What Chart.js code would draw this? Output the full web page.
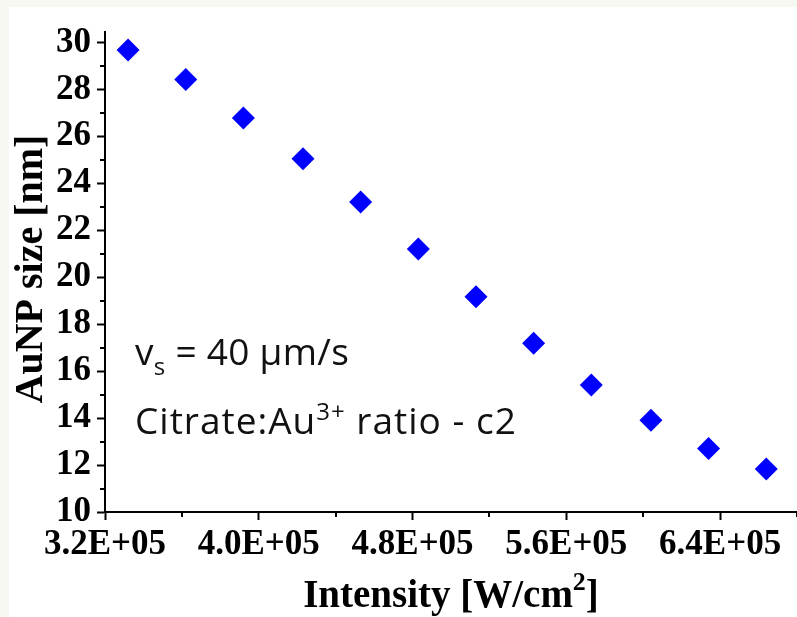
<!DOCTYPE html>
<html>
<head>
<meta charset="utf-8">
<script src="https://cdn.jsdelivr.net/npm/chart.js@4.4.1/dist/chart.umd.min.js"></script>
<style>
  html, body { margin: 0; padding: 0; background: #f8f8f2; }
  #wrap { position: absolute; left: 9px; top: 7px; width: 788px; height: 610px; background: #fff; }
  canvas { display: block; }
</style>
</head>
<body>
<div id="wrap"><canvas id="sizeChart" width="788" height="610"></canvas></div>
<script>
// Laser intensity (W/cm2) and resulting AuNP size (nm)
const intensity = [332000, 362000, 392000, 423000, 453000, 483000, 513000, 543000, 573000, 604000, 634000, 664000];
const aunpSize = [29.68, 28.43, 26.79, 25.05, 23.21, 21.21, 19.17, 17.19, 15.41, 13.91, 12.71, 11.83];

// axis ticks
const xMajor = [320000, 400000, 480000, 560000, 640000];
const xMinor = [360000, 440000, 520000, 600000, 680000];
const yMajor = [10, 12, 14, 16, 18, 20, 22, 24, 26, 28, 30];
const yMinor = [11, 13, 15, 17, 19, 21, 23, 25, 27, 29];

const serif = "'Liberation Serif', 'Times New Roman', serif";
const sans = "'Open Sans', 'DejaVu Sans', sans-serif";

// 3.2E+05 style labels
function sciLabel(v) {
    return v.toExponential(1).toUpperCase().replace(/E([+-])(\d)$/, 'E$10$2');
}

// draws a run of text pieces, each with its own font and vertical shift
function drawRich(ctx, x, y, parts) {
    parts.forEach(p => {
        ctx.font = p.font;
        ctx.fillText(p.text, x, y + (p.dy || 0));
        x += ctx.measureText(p.text).width;
    });
}

function richWidth(ctx, parts) {
    let w = 0;
    parts.forEach(p => { ctx.font = p.font; w += ctx.measureText(p.text).width; });
    return w;
}

const extras = {
    id: 'extras',
    afterDraw(chart) {
        const { ctx, chartArea: a, scales: { x, y } } = chart;
        ctx.save();

        // minor ticks
        ctx.strokeStyle = '#000';
        ctx.lineWidth = 2;
        ctx.beginPath();
        xMinor.forEach(v => {
            const px = Math.round(x.getPixelForValue(v));
            ctx.moveTo(px, a.bottom);
            ctx.lineTo(px, a.bottom + 5);
        });
        yMinor.forEach(v => {
            const py = Math.round(y.getPixelForValue(v));
            ctx.moveTo(a.left, py);
            ctx.lineTo(a.left - 5, py);
        });
        ctx.stroke();

        ctx.fillStyle = '#000';
        ctx.textBaseline = 'alphabetic';
        ctx.textAlign = 'left';

        // x axis title with superscript
        const xt = [
            { text: 'Intensity [W/cm', font: 'bold 39px ' + serif },
            { text: '2', font: 'bold 26px ' + serif, dy: -17 },
            { text: ']', font: 'bold 39px ' + serif }
        ];
        const cx = (a.left + a.right) / 2;
        drawRich(ctx, cx - richWidth(ctx, xt) / 2, 600, xt);

        // y axis title
        ctx.save();
        ctx.translate(33, (a.top + a.bottom) / 2 - 3);
        ctx.rotate(-Math.PI / 2);
        ctx.font = 'bold 40px ' + serif;
        ctx.textAlign = 'center';
        ctx.fillText('AuNP size [nm]', 0, 0);
        ctx.restore();

        // experiment conditions
        ctx.fillStyle = '#111';
        ctx.textAlign = 'left';
        const left = a.left + 30;
        ctx.letterSpacing = '0.3px';
        drawRich(ctx, left, 358, [
            { text: 'v', font: '37px ' + sans },
            { text: 's', font: '24px ' + sans, dy: 10 },
            { text: ' = 40 µm/s', font: '37px ' + sans }
        ]);
        ctx.letterSpacing = '1px';
        drawRich(ctx, left, 427, [
            { text: 'Citrate:Au', font: '37px ' + sans },
            { text: '3+', font: '24px ' + sans, dy: -14 },
            { text: ' ratio - c2', font: '37px ' + sans }
        ]);

        ctx.restore();
    }
};

const tickFont = { family: serif, size: 35, weight: 'bold' };

new Chart(document.getElementById('sizeChart'), {
    type: 'scatter',
    data: {
        datasets: [{
            data: intensity.map((v, i) => ({ x: v, y: aunpSize[i] })),
            pointStyle: 'rectRot',
            pointRadius: 11.5,
            pointHoverRadius: 11.5,
            backgroundColor: '#0000ff',
            borderColor: '#0000ff',
            borderWidth: 0
        }]
    },
    options: {
        responsive: false,
        animation: false,
        devicePixelRatio: 1,
        layout: { autoPadding: false, padding: { top: 25, right: 0, left: 0, bottom: 0 } },
        plugins: { legend: { display: false }, tooltip: { enabled: false } },
        scales: {
            x: {
                type: 'linear',
                min: 320000,
                max: 680000,
                afterBuildTicks: s => { s.ticks = xMajor.map(v => ({ value: v })); },
                afterFit: s => { s.height = 105; s.paddingLeft = 0; s.paddingRight = 0; },
                ticks: { callback: v => sciLabel(v), font: tickFont, color: '#000', padding: 4, maxRotation: 0, autoSkip: false },
                grid: { drawOnChartArea: false, tickLength: 8, tickWidth: 2, tickColor: '#000' },
                border: { color: '#000', width: 2 }
            },
            y: {
                min: 10,
                max: 30.45,
                afterBuildTicks: s => { s.ticks = yMajor.map(v => ({ value: v })); },
                afterFit: s => { s.width = 96; s.paddingTop = 0; s.paddingBottom = 0; },
                ticks: { font: tickFont, color: '#000', padding: 6, autoSkip: false },
                grid: { drawOnChartArea: false, tickLength: 8, tickWidth: 2, tickColor: '#000' },
                border: { color: '#000', width: 2 }
            }
        }
    },
    plugins: [extras]
});
</script>
</body>
</html>
